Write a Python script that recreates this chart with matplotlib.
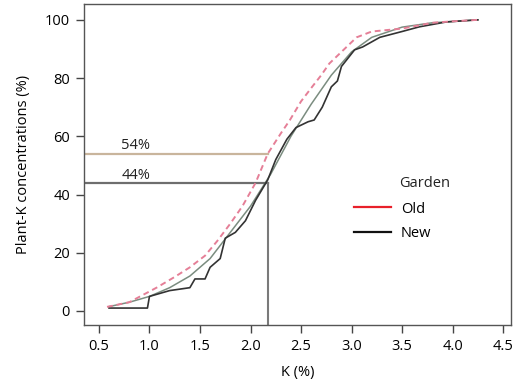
import matplotlib.pyplot as plt

plt.rcParams['font.family'] = ['Open Sans', 'DejaVu Sans']

# cumulative plant-K, new garden (jagged empirical line)
new_k = [0.6, 0.98, 1.0, 1.2, 1.4, 1.45, 1.55, 1.6, 1.7, 1.75, 1.85, 1.95, 2.05,
         2.17, 2.25, 2.36, 2.45, 2.57, 2.63, 2.71, 2.8, 2.86, 2.9, 3.03, 3.11,
         3.28, 3.5, 3.67, 3.94, 4.25]
new_pct = [1, 1, 5, 7, 8, 11, 11, 15, 18, 25, 27, 31, 38, 45, 52, 59, 63, 65,
           65.6, 70, 77, 79, 84, 89.7, 90.7, 94, 96, 97.6, 99.3, 100]

# smooth fit, new garden
new_fit_k = [0.6, 0.8, 1.0, 1.2, 1.4, 1.6, 1.8, 2.0, 2.2, 2.4, 2.6, 2.8, 3.0,
             3.2, 3.5, 3.8, 4.25]
new_fit_pct = [1.5, 3, 5, 8, 12, 18, 27, 36, 47, 60, 71, 81, 89, 94, 97.5, 99, 100]

# cumulative plant-K, old garden
old_k = [0.58, 0.8, 1.07, 1.25, 1.4, 1.55, 1.67, 1.8, 1.92, 2.05, 2.17, 2.3,
         2.39, 2.5, 2.61, 2.7, 2.78, 2.9, 3.05, 3.2, 3.5, 3.8, 4.0, 4.25]
old_pct = [1.4, 3, 8, 11.7, 15, 19, 24, 30, 36, 44, 54, 61, 65.6, 72, 77, 81,
           85, 89, 94, 96, 97, 99, 99.5, 100]

ref_k = 2.17
ref_old = 54
ref_new = 44

fig = plt.figure(figsize=(5.27, 3.85), dpi=100)
ax = fig.add_axes([0.159, 0.156, 0.811, 0.834])

# reference lines at K = 2.17 %
ax.plot([0.35, ref_k], [ref_old, ref_old], color='#c9b59c', linewidth=1.6)
ax.plot([0.35, ref_k], [ref_new, ref_new], color='#6e6e6e', linewidth=1.6)
ax.plot([ref_k, ref_k], [-5, ref_new], color='#7a7a7a', linewidth=1.5)
ax.text(0.72, ref_old + 1.5, f'{ref_old}%', fontsize=10.5, color='#222222')
ax.text(0.72, ref_new + 1.5, f'{ref_new}%', fontsize=10.5, color='#222222')

ax.plot(new_fit_k, new_fit_pct, color='#5a7060', linewidth=1.1, alpha=0.8)
ax.plot(new_k, new_pct, color='#333333', linewidth=1.2)
ax.plot(old_k, old_pct, color='#e57f97', linewidth=1.4, dashes=(3, 2))

ax.plot([], [], color='#e8202a', linewidth=1.6, label='Old')
ax.plot([], [], color='#111111', linewidth=1.6, label='New')
ax.legend(loc='upper left', bbox_to_anchor=(0.602, 0.425),
          frameon=False, fontsize=10.5, handlelength=2.5,
          handletextpad=0.7, labelspacing=0.62)
ax.text(0.737, 0.44, 'Garden', transform=ax.transAxes, fontsize=10.5,
        color='#222222', va='center')

ax.set_xlim(0.35, 4.58)
ax.set_ylim(-4.8, 105.5)
ax.set_xticks([0.5, 1.0, 1.5, 2.0, 2.5, 3.0, 3.5, 4.0, 4.5])
ax.set_xticklabels(['0.5', '1.0', '1.5', '2.0', '2.5', '3.0', '3.5', '4.0', '4.5'])
ax.set_yticks([0, 20, 40, 60, 80, 100])
ax.tick_params(labelsize=10.5, length=6, width=1, color='#444444', pad=4)
for s in ax.spines.values():
    s.set_color('#555555')
    s.set_linewidth(1)

ax.set_xlabel('K (%)', fontsize=10.5, labelpad=8)
ax.set_ylabel('Plant-K concentrations (%)', fontsize=10.5, labelpad=10)

fig.savefig('out.png', dpi=100)
